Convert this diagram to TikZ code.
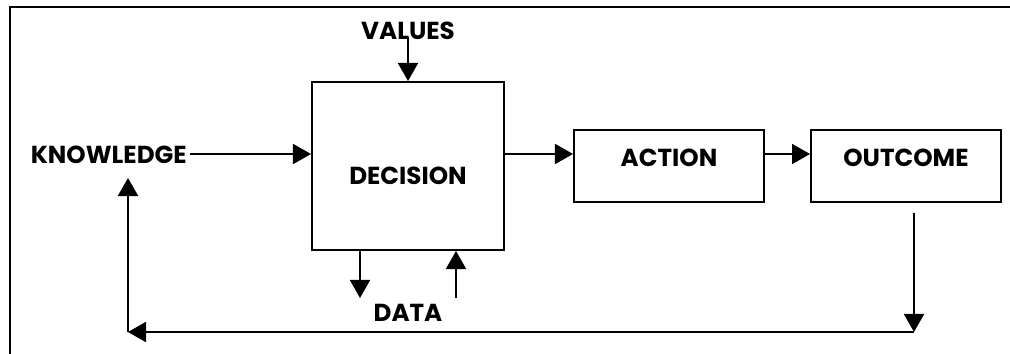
\documentclass[tikz,border=0pt]{standalone}
\usepackage{fontspec}
\setmainfont{Poppins}[UprightFont=* Bold, BoldFont=* Bold]
\usetikzlibrary{positioning, arrows.meta, calc}

\begin{document}
\begin{tikzpicture}[
  x=0.025cm, y=-0.025cm,
  font=\fontsize{17.5}{20}\selectfont,
  block/.style={draw, rectangle, line width=1.4pt, inner sep=0pt, align=center},
  label/.style={inner sep=0pt},
  arrow/.style={-{Triangle[length=0.45cm, width=0.5cm]}, line width=1.3pt}
]
\useasboundingbox (0,0) rectangle (1010,354);

% Frame
\draw[line width=1.4pt] (10,354) |- (1010,7);

% Nodes
\node[block, minimum width=4.8cm, minimum height=4.2cm, text height=0.9cm, text depth=0pt] (decision) at (408,166) {DECISION};
\node[block, minimum width=4.75cm, minimum height=1.8cm, text height=0.42cm, text depth=0.42cm] (action) at (669,166) {ACTION};
\node[block, minimum width=4.75cm, minimum height=1.8cm, text height=0.42cm, text depth=0.42cm] (outcome) at (906,166) {OUTCOME};
\node[label] (values) at (408,31) {VALUES};
\node[label, anchor=east] (knowledge) at (187,155) {KNOWLEDGE};
\node[label] (data) at (408,313) {DATA};

% Coordinates
\coordinate (drop) at (914,213);
\coordinate (corner) at (914,332);
\coordinate (back) at (128,332);
\coordinate (up) at (128,178);
\coordinate (dataout) at (360,298);
\coordinate (datain) at (456,298);

% Arrows
\draw[arrow] (408,37) -- (decision.north);
\draw[arrow] ([xshift=2pt]knowledge.east |- 0,154) -- (decision.west |- 0,154);
\draw[arrow] (decision.east |- 0,154) -- (action.west |- 0,154);
\draw[arrow] (action.east |- 0,154) -- (outcome.west |- 0,154);
\draw[arrow] (drop) -- (corner);
\draw[arrow] (corner) -- (back);
\draw[arrow] (back) -- (up);
\draw[arrow] (decision.south -| dataout) -- (dataout);
\draw[arrow] (datain) -- (decision.south -| datain);

\end{tikzpicture}
\end{document}
